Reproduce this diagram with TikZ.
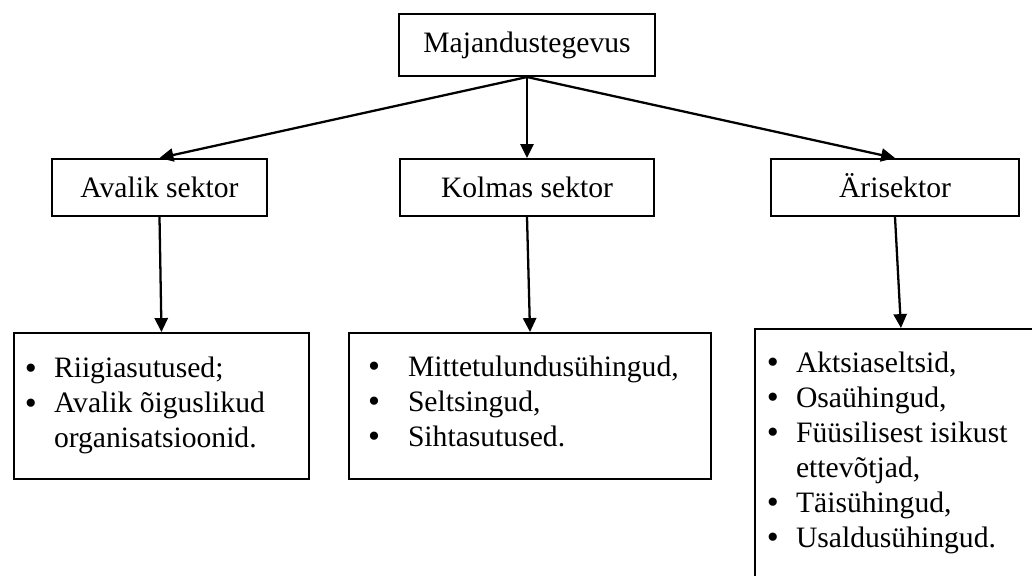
\documentclass[tikz,border=0pt]{standalone}
\usepackage{fontspec}
\setmainfont{Liberation Serif}
\usetikzlibrary{arrows.meta}

\setlength{\parskip}{0pt}
\newcommand{\punkt}[3]{\par\noindent\hangindent=#2\hangafter=1\makebox[#2][l]{\hspace*{#1}\raisebox{-0.6pt}{\fontsize{13.5}{13.8}\selectfont\textbullet}}\strut#3\par}

\tikzset{
  kast/.style={draw, line width=0.8pt, inner sep=0pt, font=\fontsize{11.7}{13.8}\selectfont},
  sektor/.style={kast, minimum height=22.5pt, text height=9pt, text depth=1pt},
  nool/.style={->, line width=0.9pt},
}

\begin{document}
\begin{tikzpicture}[x=0.395pt, y=-0.395pt, >={Triangle[length=5.5pt,width=5.2pt]}]
    \useasboundingbox (0,0) rectangle (1032,575);
    \clip (0,0) rectangle (1032,575);

    % ylemine kast
    \node[kast, minimum width=101.1pt, minimum height=24.5pt] (majandus) at (527,45) {Majandustegevus};

    % sektorid
    \node[sektor, minimum width=84.9pt] (avalik) at (159.5,187.5) {Avalik sektor};
    \node[sektor, minimum width=100.3pt] (kolmas) at (527,187.5) {Kolmas sektor};
    \node[sektor, minimum width=98pt] (ari) at (895,187.5) {Ärisektor};

    % loetelud
    \node[kast, anchor=north west] (riik) at (13,332) {%
      \begin{minipage}[t][57.7pt][t]{116.5pt}\raggedright\vspace*{8pt}
        \punkt{4.3pt}{15.8pt}{Riigiasutused;}
        \punkt{4.3pt}{15.8pt}{Avalik õiguslikud\newline organisatsioonid.}
      \end{minipage}};
    \node[kast, anchor=north west] (mtu) at (348,332) {%
      \begin{minipage}[t][57.7pt][t]{143pt}\raggedright\vspace*{7.5pt}
        \punkt{7.5pt}{23.3pt}{Mittetulundusühingud,}
        \punkt{7.5pt}{23.3pt}{Seltsingud,}
        \punkt{7.5pt}{23.3pt}{Sihtasutused.}
      \end{minipage}};
    \node[kast, anchor=north west] (firma) at (754,328) {%
      \begin{minipage}[t][107.4pt][t]{115.3pt}\raggedright\vspace*{7.5pt}
        \punkt{4.7pt}{16.2pt}{Aktsiaseltsid,}
        \punkt{4.7pt}{16.2pt}{Osaühingud,}
        \punkt{4.7pt}{16.2pt}{Füüsilisest isikust\newline ettevõtjad,}
        \punkt{4.7pt}{16.2pt}{Täisühingud,}
        \punkt{4.7pt}{16.2pt}{Usaldusühingud.}
      \end{minipage}};

    % nooled
    \draw[nool] (majandus.south) -- (avalik.north);
    \draw[nool] (majandus.south) -- (kolmas.north);
    \draw[nool] (majandus.south) -- (ari.north);
    \draw[nool] (avalik.south) -- (riik.north);
    \draw[nool] (kolmas.south) -- (mtu.north);
    \draw[nool] (ari.south) -- (firma.north);
\end{tikzpicture}
\end{document}
